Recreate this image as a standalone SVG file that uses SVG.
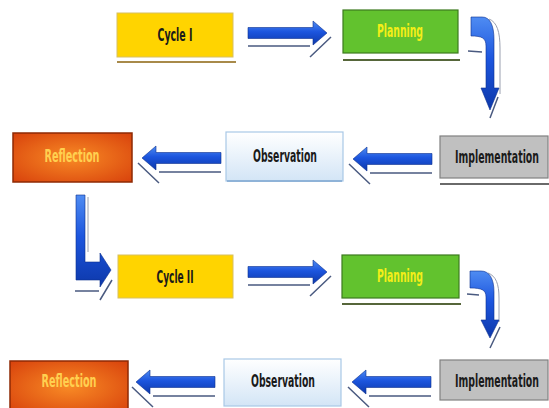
<svg xmlns="http://www.w3.org/2000/svg" width="549" height="408" viewBox="0 0 549 408">
<defs>
  <linearGradient id="blue" x1="0" y1="0" x2="0" y2="1">
    <stop offset="0" stop-color="#4F8CF2"/>
    <stop offset="0.45" stop-color="#1C55DE"/>
    <stop offset="1" stop-color="#0D38AA"/>
  </linearGradient>
  <radialGradient id="refl" cx="0.5" cy="0.5" r="0.7">
    <stop offset="0" stop-color="#F88A25"/>
    <stop offset="1" stop-color="#D8420C"/>
  </radialGradient>
  <linearGradient id="obs" x1="0" y1="0" x2="0" y2="1">
    <stop offset="0" stop-color="#FFFFFF"/>
    <stop offset="1" stop-color="#D3E5F6"/>
  </linearGradient>
  <path id="arr" d="M0,0 L-14,-12 L-14,-5.5 L-79,-5.5 L-79,5.5 L-14,5.5 L-14,12 Z"/>
  <path id="arrsh" d="M-79,13 L-17,13 M-17,24 L4,4"/>
</defs>
<style>
  .lbl { font-family: "DejaVu Sans Condensed", "DejaVu Sans", sans-serif; font-weight: bold; font-size: 17px; text-anchor: middle; }
  .ar { fill: url(#blue); stroke: #0B2F8F; stroke-width: 0.6; }
  .sh { fill: none; stroke: #4A5A80; stroke-width: 1.5; }
  .shl { fill: none; stroke: #9AA0B0; stroke-width: 1; }
  .cyc { fill: #FFD400; stroke: #D8C060; stroke-width: 1; }
  .pln { fill: #62C22E; stroke: #3C7A1E; stroke-width: 1.2; }
  .imp { fill: #C0C0C0; stroke: #808080; stroke-width: 1.2; }
  .obs { fill: url(#obs); stroke: #A9C8E6; stroke-width: 1.2; }
  .ref { fill: url(#refl); stroke: #8E2A04; stroke-width: 1.5; }
</style>

<g id="connectors">
  <!-- Cycle I -> Planning -->
  <use href="#arrsh" class="sh" transform="translate(327,33)"/>
  <use href="#arr" class="ar" transform="translate(327,33)"/>
  <!-- Planning -> Implementation (curved) -->
  <path class="shl" d="M489,19 C497,22 500,32 500,48 L500,94"/>
  <path class="sh" d="M468,51 L482,52 M490,118 L498,97"/>
  <path class="ar" d="M471,17 L482,17 C490,17 494,25 494,40 L494,88 L499,88 L490,110 L481,88 L486,88 L486,46 C486,38 482,36 471,36 Z"/>
  <!-- Implementation -> Observation -->
  <use href="#arrsh" class="sh" transform="translate(353,160) scale(-1,1)"/>
  <use href="#arr" class="ar" transform="translate(353,159) scale(-1,1)"/>
  <!-- Observation -> Reflection -->
  <use href="#arrsh" class="sh" transform="translate(142,159) scale(-1,1)"/>
  <use href="#arr" class="ar" transform="translate(142,158) scale(-1,1)"/>
  <!-- Reflection -> Cycle II (L arrow) -->
  <path class="shl" d="M88,197 L88,252"/>
  <path class="sh" d="M75,291 L99,291 M100,300 L112,280"/>
  <path class="ar" d="M76,195 L85,195 L85,262 L100,262 L100,253 L111,270 L100,287 L100,280 L76,280 Z"/>
  <!-- Cycle II -> Planning -->
  <use href="#arrsh" class="sh" transform="translate(327,272)"/>
  <use href="#arr" class="ar" transform="translate(327,272)"/>
  <!-- Planning -> Implementation (curved) -->
  <path class="shl" d="M488,273 C496,276 499,284 499,298 L499,322"/>
  <path class="sh" d="M467,294 L479,295 M490,348 L500,327"/>
  <path class="ar" d="M470,271 L481,271 C489,271 494,278 494,292 L494,320 L499,320 L490,338 L481,320 L486,320 L486,297 C486,290 482,288 470,288 Z"/>
  <!-- Implementation -> Observation -->
  <use href="#arrsh" class="sh" transform="translate(352,383) scale(-1,1)"/>
  <use href="#arr" class="ar" transform="translate(352,382) scale(-1,1)"/>
  <!-- Observation -> Reflection -->
  <use href="#arrsh" class="sh" transform="translate(136,383) scale(-1,1)"/>
  <use href="#arr" class="ar" transform="translate(136,382) scale(-1,1)"/>
</g>

<g id="cycle1">
  <line x1="117" y1="62" x2="236" y2="62" stroke="#A88A4A" stroke-width="2"/>
  <rect class="cyc" x="117" y="13" width="116" height="44"/>
  <text class="lbl" x="175" y="41" fill="#1A1A1A" textLength="35" lengthAdjust="spacingAndGlyphs">Cycle I</text>
</g>
<g id="planning1">
  <line x1="343" y1="60" x2="460" y2="60" stroke="#56663A" stroke-width="2"/>
  <rect class="pln" x="343" y="10" width="115" height="43"/>
  <text class="lbl" x="400" y="37" fill="#F4EE18" textLength="46" lengthAdjust="spacingAndGlyphs">Planning</text>
</g>
<g id="implementation1">
  <line x1="440" y1="184" x2="549" y2="184" stroke="#6A6A6A" stroke-width="2"/>
  <rect class="imp" x="440" y="136" width="108" height="42"/>
  <text class="lbl" transform="translate(497,163) scale(0.6,1)" x="0" y="0" fill="#1A1A1A" textLength="140" lengthAdjust="spacingAndGlyphs">Implementation</text>
</g>
<g id="observation1">
  <rect class="obs" x="226" y="132" width="117" height="49"/>
  <line x1="227" y1="181" x2="342" y2="181" stroke="#8FB3D8" stroke-width="2"/>
  <text class="lbl" x="285" y="162" fill="#1A1A1A" textLength="64" lengthAdjust="spacingAndGlyphs">Observation</text>
</g>
<g id="reflection1">
  <rect class="ref" x="13" y="133" width="119" height="49"/>
  <text class="lbl" x="72" y="162" fill="#FFD050" textLength="55" lengthAdjust="spacingAndGlyphs">Reflection</text>
</g>
<g id="cycle2">
  <rect class="cyc" x="118" y="255" width="115" height="43"/>
  <text class="lbl" x="175" y="283" fill="#1A1A1A" textLength="37" lengthAdjust="spacingAndGlyphs">Cycle II</text>
</g>
<g id="planning2">
  <line x1="342" y1="304" x2="461" y2="304" stroke="#56663A" stroke-width="2"/>
  <rect class="pln" x="342" y="255" width="117" height="43"/>
  <text class="lbl" x="400" y="282" fill="#F4EE18" textLength="46" lengthAdjust="spacingAndGlyphs">Planning</text>
</g>
<g id="implementation2">
  <rect class="imp" x="440" y="360" width="108" height="40"/>
  <text class="lbl" transform="translate(497,387) scale(0.6,1)" x="0" y="0" fill="#1A1A1A" textLength="140" lengthAdjust="spacingAndGlyphs">Implementation</text>
</g>
<g id="observation2">
  <rect class="obs" x="224" y="359" width="117" height="47"/>
  <text class="lbl" x="283" y="387" fill="#1A1A1A" textLength="64" lengthAdjust="spacingAndGlyphs">Observation</text>
</g>
<g id="reflection2">
  <rect class="ref" x="10" y="361" width="118" height="52"/>
  <text class="lbl" x="69" y="387" fill="#FFD050" textLength="55" lengthAdjust="spacingAndGlyphs">Reflection</text>
</g>
</svg>
